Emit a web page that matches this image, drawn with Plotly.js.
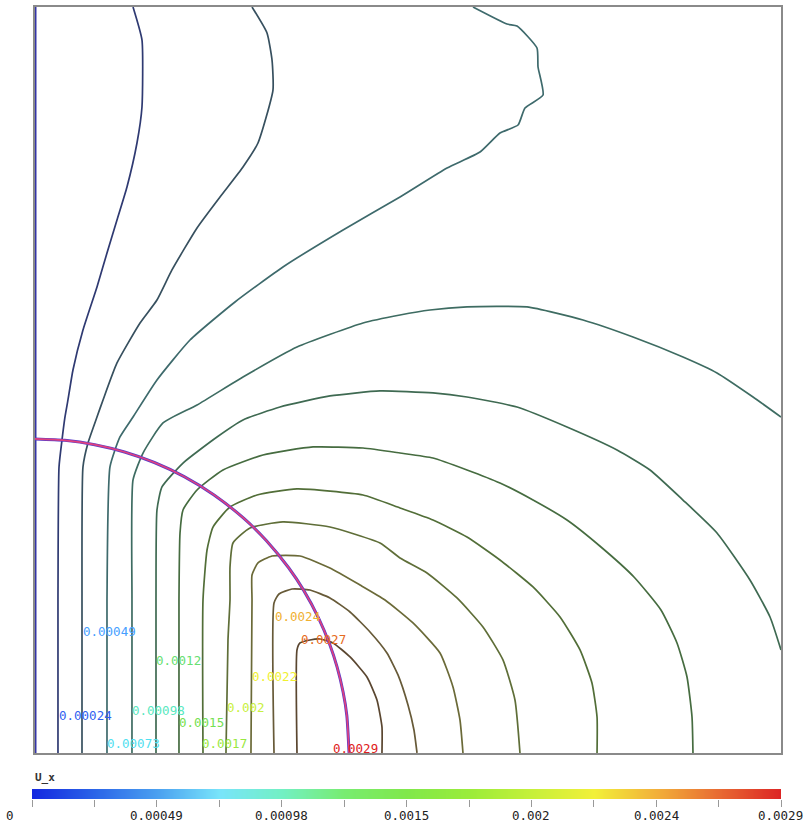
<!DOCTYPE html>
<html>
<head>
<meta charset="utf-8">
<script src="https://cdn.plot.ly/plotly-3.0.1.min.js"></script>
<style>html,body{margin:0;padding:0;background:#fff;}#plot{width:807px;height:828px;}</style>
</head>
<body>
<div id="plot"></div>
<script>
// Contour levels of U_x and their labels
const levelVals = [0, 0.000242, 0.000483, 0.000725, 0.000967, 0.001208, 0.00145, 0.001692, 0.001933, 0.002175, 0.002417, 0.002658, 0.0029];
const levelLabels = ['0','0.00024','0.00049','0.00073','0.00098','0.0012','0.0015','0.0017','0.002','0.0022','0.0024','0.0027','0.0029'];
// Label anchor points (domain units)
const labelX = [-0.003, 0.0295, 0.0617, 0.0938, 0.1273, 0.1595, 0.1903, 0.2212, 0.2547, 0.2882, 0.3190, 0.3539, 0.3968];
const labelY = [0.0067, 0.0509, 0.1635, 0.0121, 0.0563, 0.1233, 0.0402, 0.0121, 0.0603, 0.1019, 0.1823, 0.1515, 0.0054];

// Contour lines (domain 0..1 x 0..1)
const c0x = [0, 0];
const c0y = [0, 1];
const c1x = [0.0308,0.0308,0.0322,0.0362,0.0402,0.0442,0.0509,0.0643,0.0831,0.0965,0.1099,0.1233,0.1367,0.1434,0.1434,0.1314];
const c1y = [0,0.2051,0.3834,0.4196,0.4504,0.4732,0.5134,0.5670,0.6247,0.6702,0.7145,0.7587,0.8177,0.8660,0.9558,1.0];
const c2x = [0.0630,0.0630,0.0643,0.0710,0.0831,0.0912,0.1099,0.1408,0.1635,0.1836,0.2172,0.2480,0.2788,0.2989,0.3190,0.3177,0.3110,0.2909];
const c2y = [0,0.2051,0.3834,0.4155,0.4504,0.4732,0.5228,0.5764,0.6072,0.6475,0.7038,0.7453,0.7855,0.8177,0.8887,0.9290,0.9651,1.0];
const c3x = [0.0965,0.0965,0.1005,0.1139,0.1314,0.1635,0.2078,0.2681,0.3324,0.4129,0.4893,0.5523,0.5965,0.6233,0.6475,0.6568,0.6810,0.6743,0.6729,0.6461,0.6327,0.5871];
const c3y = [0,0.2051,0.3834,0.4236,0.4504,0.5,0.5536,0.6046,0.6515,0.7011,0.7453,0.7842,0.8056,0.8311,0.8418,0.8646,0.8820,0.9196,0.9450,0.9745,0.9772,1.0];
const c4x = [0.1300,0.1300,0.1314,0.1448,0.1716,0.2172,0.2788,0.3512,0.4397,0.4893,0.5295,0.5791,0.6595,0.7346,0.8016,0.8686,0.9142,0.9625,1.0];
const c4y = [0,0.2051,0.3660,0.4021,0.4424,0.4665,0.5040,0.5442,0.5764,0.5871,0.5938,0.5979,0.5979,0.5804,0.5576,0.5308,0.5094,0.4772,0.4504];
const c5x = [0.1622,0.1622,0.1635,0.1702,0.1984,0.2440,0.2788,0.3284,0.3954,0.4625,0.5335,0.5791,0.6461,0.7131,0.7802,0.8244,0.8686,0.9142,0.9584,0.9853,1.0];
const c5y = [0,0.2051,0.3257,0.3566,0.3887,0.4236,0.4464,0.4638,0.4786,0.4853,0.4826,0.4772,0.4638,0.4370,0.4062,0.3794,0.3391,0.2949,0.2319,0.1823,0.1381];
const c6x = [0.1930,0.1930,0.1944,0.1984,0.2172,0.2520,0.3056,0.3727,0.4397,0.4893,0.5335,0.5791,0.6233,0.6676,0.7131,0.7587,0.8029,0.8391,0.8606,0.8740,0.8807,0.8820];
const c6y = [0,0.2051,0.2949,0.3257,0.3525,0.3794,0.3995,0.4102,0.4088,0.4021,0.3954,0.3794,0.3619,0.3391,0.3123,0.2761,0.2359,0.1917,0.1475,0.1019,0.0483,0];
const c7x = [0.2252,0.2252,0.2306,0.2386,0.2614,0.2976,0.3512,0.4397,0.4893,0.5335,0.5791,0.6233,0.6676,0.7038,0.7306,0.7466,0.7534,0.7534];
const c7y = [0,0.2051,0.2721,0.3029,0.3298,0.3458,0.3539,0.3458,0.3284,0.3123,0.2895,0.2587,0.2225,0.1823,0.1381,0.0938,0.0483,0];
const c8x = [0.2560,0.2587,0.2614,0.2614,0.2654,0.2882,0.3324,0.3954,0.4625,0.4893,0.5255,0.5657,0.6005,0.6273,0.6434,0.6501];
const c8y = [0,0.1515,0.2051,0.2493,0.2815,0.3016,0.3097,0.3029,0.2815,0.2614,0.2413,0.2078,0.1689,0.1247,0.0710,0];
const c9x = [0.2895,0.2909,0.2909,0.2989,0.3177,0.3552,0.3954,0.4357,0.4692,0.5067,0.5429,0.5603,0.5697,0.5737];
const c9y = [0,0.2051,0.2386,0.2547,0.2641,0.2641,0.2480,0.2252,0.2051,0.1743,0.1340,0.0885,0.0442,0];
const c10x = [0.3204,0.3204,0.3271,0.3445,0.3686,0.3954,0.4223,0.4491,0.4718,0.4866,0.5,0.5080,0.5121];
const c10y = [0,0.2011,0.2131,0.2198,0.2185,0.2078,0.1890,0.1622,0.1340,0.1046,0.0643,0.0308,0];
const c11x = [0.3512,0.3512,0.3552,0.3686,0.3820,0.3995,0.4223,0.4450,0.4584,0.4651,0.4651];
const c11y = [0,0.1381,0.1475,0.1515,0.1528,0.1475,0.1287,0.1019,0.0710,0.0349,0];
// Inclusion boundary (quarter circle)
const arcX = [0,0.04,0.08,0.12,0.16,0.20,0.24,0.28,0.31,0.34,0.36,0.38,0.395,0.405,0.413,0.418,0.421];
const arcY = [0.421,0.4191,0.4133,0.4035,0.3894,0.3705,0.3459,0.3144,0.2849,0.2483,0.2183,0.1812,0.1457,0.1150,0.0817,0.0502,0];

const contoursX = [c0x,c1x,c2x,c3x,c4x,c5x,c6x,c7x,c8x,c9x,c10x,c11x];
const contoursY = [c0y,c1y,c2y,c3y,c4y,c5y,c6y,c7y,c8y,c9y,c10y,c11y];
const lineColors = ['#3535a8','#2f3a72','#37505f','#3e6a6c','#3e6c62','#3f6a52','#466c40','#526e38','#5f6e38','#6b6a38','#675a38','#5a4630'];
const labelColors = ['#2030ff','#2f5ff0','#45a0ff','#50e0f0','#58e8c0','#66e070','#74e050','#98e840','#c8f040','#f0f030','#f0b030','#e66a20','#e02020'];

const traces = [];
contoursX.forEach((xs, i) => {
  traces.push({
    type: 'scatter', mode: 'lines', x: xs, y: contoursY[i],
    line: {color: lineColors[i], width: i === 0 ? 3 : 1.7, shape: 'spline', smoothing: 0.5},
    hoverinfo: 'skip', showlegend: false, xaxis: 'x', yaxis: 'y'
  });
});
traces.push({type:'scatter', mode:'lines', x: arcX, y: arcY,
  line:{color:'#5a3cc8', width:3, shape:'spline', smoothing:0.6}, hoverinfo:'skip', showlegend:false});
traces.push({type:'scatter', mode:'lines', x: arcX, y: arcY,
  line:{color:'#e0407e', width:1.6, shape:'spline', smoothing:0.6}, hoverinfo:'skip', showlegend:false});

// Colour bar as a smooth heatmap
const cscale = [[0,'#1428e0'],[0.083,'#2a64e8'],[0.167,'#4aa0f0'],[0.25,'#78e4fa'],[0.333,'#72f0c4'],[0.417,'#78ec70'],[0.5,'#80e84a'],[0.583,'#9aec3a'],[0.667,'#c6f03a'],[0.75,'#f2f038'],[0.833,'#f2b03a'],[0.917,'#e86a32'],[1,'#dc2424']];
traces.push({
  type:'heatmap', x:[levelVals[0], levelVals[12]], y:[0,1],
  z:[[levelVals[0], levelVals[12]],[levelVals[0], levelVals[12]]],
  zmin: levelVals[0], zmax: levelVals[12], zsmooth:'best',
  colorscale: cscale, showscale:false, hoverinfo:'skip', xaxis:'x2', yaxis:'y2'
});

const annotations = levelLabels.map((t, i) => ({
  x: labelX[i], y: labelY[i], xref:'x', yref:'y', text: t, showarrow:false,
  xanchor:'left', yanchor:'middle', font:{family:'DejaVu Sans Mono', size:12.5, color: labelColors[i]}
}));
// colour-bar tick labels
[0,2,4,6,8,10,12].forEach(k => {
  annotations.push({
    x: levelVals[k], y: -0.009, xref:'x2', yref:'paper', text: levelLabels[k], showarrow:false,
    xanchor: k === 12 ? 'right' : 'center', yanchor:'middle', xshift: k === 0 ? -22 : (k === 12 ? 24 : 0),
    font:{family:'DejaVu Sans Mono', size:12.5, color:'#222'}
  });
});
annotations.push({x:0.001, y:0.0375, xref:'paper', yref:'paper', text:'<b>U_x</b>', showarrow:false,
  xanchor:'left', yanchor:'middle', font:{family:'DejaVu Sans Mono', size:11, color:'#333'}});

const layout = {
  width: 807, height: 828,
  margin: {l:32, r:26, t:7, b:20, pad:0},
  paper_bgcolor:'#fff', plot_bgcolor:'#fff',
  showlegend:false,
  xaxis: {domain:[0.004,1], range:[0,1], showgrid:false, zeroline:false, showticklabels:false, ticks:'',
          showline:true, mirror:true, linecolor:'#8a8a8a', linewidth:2, fixedrange:true},
  yaxis: {domain:[0.0687,1], range:[0,1], showgrid:false, zeroline:false, showticklabels:false, ticks:'',
          showline:true, mirror:true, linecolor:'#8a8a8a', linewidth:2, fixedrange:true},
  xaxis2: {domain:[0,1], range:[levelVals[0], levelVals[12]], anchor:'y2', showgrid:false, zeroline:false,
           showticklabels:false, ticks:'outside', ticklen:7, tickwidth:1, tickcolor:'#999',
           tickmode:'array', tickvals: levelVals, showline:false},
  yaxis2: {domain:[0.0112,0.0237], range:[0,1], anchor:'x2', showgrid:false, zeroline:false,
           showticklabels:false, ticks:'', showline:false},
  annotations: annotations
};

Plotly.newPlot('plot', traces, layout, {staticPlot:true, displayModeBar:false});
</script>
</body>
</html>
